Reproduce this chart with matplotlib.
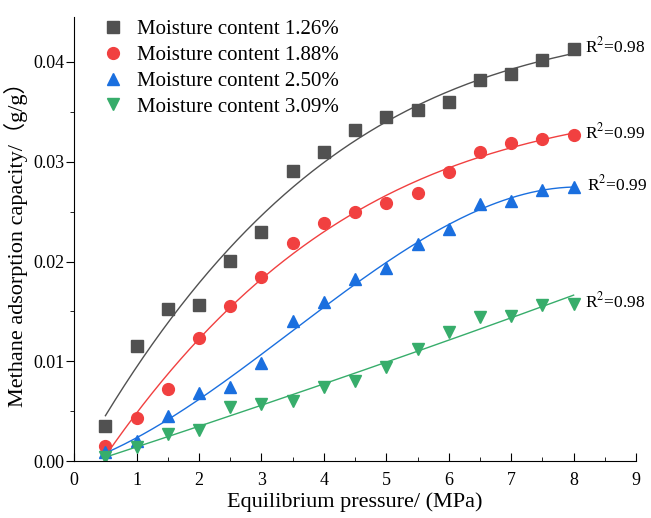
import matplotlib.pyplot as plt
from matplotlib.ticker import MultipleLocator
import numpy as np

plt.rcParams['font.family'] = ['Liberation Serif', 'DejaVu Serif']
plt.rcParams['mathtext.fontset'] = 'stix'

pressure = [0.5, 1.0, 1.5, 2.0, 2.5, 3.0, 3.5, 4.0, 4.5, 5.0, 5.5, 6.0, 6.5, 7.0, 7.5, 8.0]
mc126 = [0.0035, 0.0115, 0.0152, 0.0156, 0.0201, 0.0230, 0.0291, 0.0310, 0.0332,
         0.0345, 0.0352, 0.0360, 0.0382, 0.0388, 0.0402, 0.0413]
mc188 = [0.0015, 0.0043, 0.0072, 0.0123, 0.0155, 0.0184, 0.0219, 0.0239, 0.0250,
         0.0259, 0.0269, 0.0290, 0.0310, 0.0319, 0.0323, 0.0327]
mc250 = [0.0009, 0.0020, 0.0045, 0.0068, 0.0074, 0.0098, 0.0140, 0.0159, 0.0182,
         0.0193, 0.0218, 0.0233, 0.0258, 0.0261, 0.0272, 0.0275]
mc309 = [0.0004, 0.0014, 0.0027, 0.0031, 0.0054, 0.0057, 0.0060, 0.0074, 0.0080,
         0.0094, 0.0112, 0.0129, 0.0144, 0.0145, 0.0156, 0.0157]

labels = ['Moisture content 1.26%', 'Moisture content 1.88%',
          'Moisture content 2.50%', 'Moisture content 3.09%']
r2 = ['0.98', '0.99', '0.99', '0.98']
colors = ['#515151', '#F14040', '#1A6FDF', '#37AD6B']
markers = ['s', 'o', '^', 'v']
fit_deg = [3, 3, 3, 2]
r2_offset = [(8, 2), (8, 2), (10, 2), (8, 2)]

fig = plt.figure(figsize=(6.51, 5.18), dpi=100)
ax = fig.add_axes([0.114, 0.11, 0.863, 0.857])

x = np.array(pressure)
xs = np.linspace(0.5, 8, 200)
for y, lab, c, m, r, d, off in zip([mc126, mc188, mc250, mc309], labels, colors, markers, r2, fit_deg, r2_offset):
    y = np.array(y)
    coef = np.polyfit(x, y, d)
    fit = np.polyval(coef, xs)
    ax.plot(xs, fit, color=c, lw=1.0)
    ax.plot(x, y, ls='none', marker=m, ms=8.5, color=c, label=lab)
    ax.annotate('R$^2$=' + r, xy=(8, y[-1]), xytext=off, textcoords='offset points',
                fontsize=12.5, va='center', ha='left')

ax.set_xlim(0, 9)
ax.set_ylim(0, 0.0445)
ax.xaxis.set_major_locator(MultipleLocator(1))
ax.xaxis.set_minor_locator(MultipleLocator(0.5))
ax.yaxis.set_major_locator(MultipleLocator(0.01))
ax.yaxis.set_minor_locator(MultipleLocator(0.005))
ax.yaxis.set_major_formatter(plt.FormatStrFormatter('%.2f'))
ax.tick_params(axis='x', which='both', direction='in', labelsize=13)
ax.tick_params(axis='x', which='major', length=6, pad=8)
ax.tick_params(axis='x', which='minor', length=3)
ax.tick_params(axis='y', which='both', direction='out', labelsize=13)
ax.tick_params(axis='y', which='major', length=6, pad=1)
ax.tick_params(axis='y', which='minor', length=3)
ax.spines['top'].set_visible(False)
ax.spines['right'].set_visible(False)

ax.set_xlabel('Equilibrium pressure/ (MPa)', fontsize=16, labelpad=2)
ax.set_ylabel('Methane adsorption capacity/（g/g）', fontsize=16, labelpad=4,
              family=['Liberation Serif', 'Noto Sans CJK SC'])

ax.legend(loc='upper left', frameon=False, fontsize=15, handletextpad=0.15,
          borderaxespad=0.0, labelspacing=0.3, bbox_to_anchor=(0.017, 1.013))

fig.savefig('out.png', dpi=100)
